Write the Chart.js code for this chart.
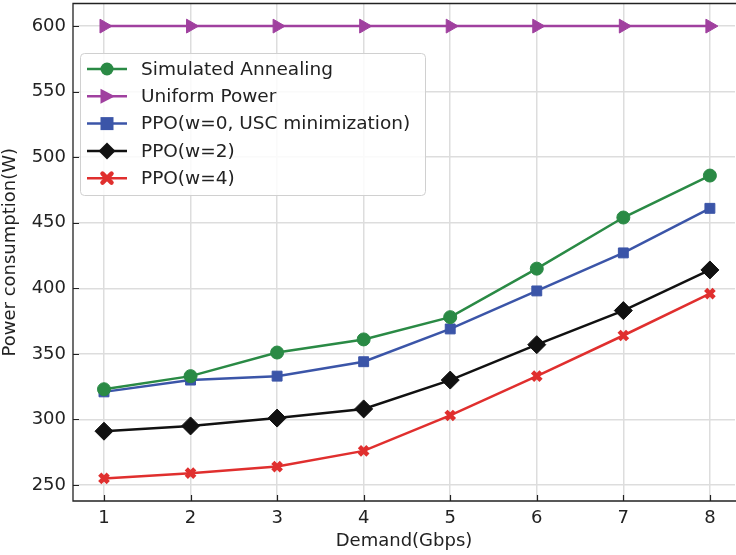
<!DOCTYPE html>
<html>
<head>
<meta charset="utf-8">
<script src="https://cdn.jsdelivr.net/npm/chart.js@4/dist/chart.umd.min.js"></script>
<style>
  html, body { margin: 0; padding: 0; background: #fff; }
  #wrap { width: 736px; height: 555px; }
</style>
</head>
<body>
<div id="wrap"><canvas id="canvas" width="736" height="555"></canvas></div>
<script>
const demand = [1, 2, 3, 4, 5, 6, 7, 8];
const simAnnealing = [323, 333, 351, 361, 378, 415, 454, 486];
const uniformPower = [600, 600, 600, 600, 600, 600, 600, 600];
const ppoW0 = [321, 330, 333, 344, 369, 398, 427, 461];
const ppoW2 = [291, 295, 301, 308, 330, 357, 383, 414];
const ppoW4 = [255, 259, 264, 276, 303, 333, 364, 396];
const yTicks = [250, 300, 350, 400, 450, 500, 550, 600];

const FONT = "'DejaVu Sans', sans-serif";

const series = [
  { label: "Simulated Annealing", data: simAnnealing, color: "#2a8a45", marker: "circle" },
  { label: "Uniform Power", data: uniformPower, color: "#a0409f", marker: "triangle" },
  { label: "PPO(w=0, USC minimization)", data: ppoW0, color: "#3b55a8", marker: "rect" },
  { label: "PPO(w=2)", data: ppoW2, color: "#111111", marker: "rectRot" },
  { label: "PPO(w=4)", data: ppoW4, color: "#e02f2e", marker: "crossRot" },
];

const pointSize = { circle: 6.5, triangle: 8, rect: 7, rectRot: 9, crossRot: 6 };

// draw a marker by hand for the legend
function drawMarker(c, kind, x, y, color) {
  c.save();
  c.fillStyle = color;
  c.strokeStyle = color;
  c.beginPath();
  if (kind === "circle") {
    c.arc(x, y, 6.5, 0, Math.PI * 2);
    c.fill();
  } else if (kind === "triangle") {
    c.moveTo(x + 8, y);
    c.lineTo(x - 6.5, y - 7.5);
    c.lineTo(x - 6.5, y + 7.5);
    c.closePath();
    c.fill();
  } else if (kind === "rect") {
    c.rect(x - 6.5, y - 6.5, 13, 13);
    c.fill();
  } else if (kind === "rectRot") {
    c.moveTo(x, y - 8.5); c.lineTo(x + 8.5, y); c.lineTo(x, y + 8.5); c.lineTo(x - 8.5, y);
    c.closePath();
    c.fill();
  } else {
    c.lineWidth = 4.5;
    c.lineCap = "round";
    c.moveTo(x - 4.5, y - 4.5); c.lineTo(x + 4.5, y + 4.5);
    c.moveTo(x + 4.5, y - 4.5); c.lineTo(x - 4.5, y + 4.5);
    c.stroke();
  }
  c.restore();
}

const framePlugin = {
  id: "frame",
  afterDraw(chart) {
    const c = chart.ctx;
    const a = chart.chartArea;
    const xs = chart.scales.x, ys = chart.scales.y;
    c.save();
    // inward tick marks
    c.strokeStyle = "#222";
    c.lineWidth = 1.2;
    c.beginPath();
    demand.forEach(v => {
      const px = Math.round(xs.getPixelForValue(v)) + 0.5;
      c.moveTo(px, a.bottom); c.lineTo(px, a.bottom - 6);
    });
    yTicks.forEach(v => {
      const py = Math.round(ys.getPixelForValue(v)) + 0.5;
      c.moveTo(a.left, py); c.lineTo(a.left + 6, py);
    });
    c.stroke();
    // spines (the right one falls just off the picture)
    c.strokeStyle = "#222";
    c.lineWidth = 1.3;
    c.beginPath();
    c.moveTo(a.right + 5, a.top); c.lineTo(a.left, a.top);
    c.lineTo(a.left, a.bottom); c.lineTo(a.right + 5, a.bottom);
    c.stroke();

    // legend box inside the plot
    const bx = 80, by = 53, bw = 345, bh = 142;
    c.fillStyle = "rgba(255,255,255,0.85)";
    c.strokeStyle = "#d0d0d0";
    c.lineWidth = 1;
    c.beginPath();
    c.roundRect(bx + 0.5, by + 0.5, bw, bh, 4);
    c.fill();
    c.stroke();
    c.font = "18.5px " + FONT;
    c.textBaseline = "middle";
    series.forEach((s, i) => {
      const y = 69 + i * 27.3;
      c.strokeStyle = s.color;
      c.lineWidth = 2.5;
      c.beginPath();
      c.moveTo(87, y); c.lineTo(127, y);
      c.stroke();
      drawMarker(c, s.marker, 107, y, s.color);
      c.fillStyle = "#222";
      c.fillText(s.label, 141, y + 1);
    });
    c.restore();
  },
};

const ctx = document.getElementById("canvas").getContext("2d");

new Chart(ctx, {
  type: "line",
  data: {
    datasets: series.map(s => ({
      label: s.label,
      data: demand.map((d, i) => ({ x: d, y: s.data[i] })),
      borderColor: s.color,
      backgroundColor: s.color,
      pointBackgroundColor: s.color,
      pointBorderColor: s.color,
      pointStyle: s.marker,
      pointRotation: s.marker === "triangle" ? 90 : 0,
      pointRadius: pointSize[s.marker],
      pointBorderWidth: s.marker === "crossRot" ? 4.5 : 1,
      borderWidth: 2.5,
      tension: 0,
      clip: false,
    })),
  },
  options: {
    responsive: false,
    animation: false,
    layout: { autoPadding: false, padding: { top: 3.5, right: 1, left: 0, bottom: 0 } },
    scales: {
      x: {
        type: "linear",
        min: 0.642,
        max: 8.29,
        afterBuildTicks: s => { s.ticks = demand.map(v => ({ value: v })); },
        afterFit: s => { s.height = 54; s.paddingLeft = 0; s.paddingRight = 0; },
        grid: { color: "#dddddd", lineWidth: 1.5, drawTicks: false },
        border: { display: false },
        ticks: { color: "#222", font: { family: FONT, size: 18 }, padding: 7, maxRotation: 0 },
        title: {
          display: true,
          text: "Demand(Gbps)",
          color: "#222",
          font: { family: FONT, size: 18 },
          padding: { top: 0, bottom: 3 },
        },
      },
      y: {
        min: 237.75,
        max: 617.25,
        afterBuildTicks: s => { s.ticks = yTicks.map(v => ({ value: v })); },
        afterFit: s => { s.width = 73; s.paddingTop = 0; s.paddingBottom = 0; },
        grid: { color: "#dddddd", lineWidth: 1.5, drawTicks: false },
        border: { display: false },
        ticks: { color: "#222", font: { family: FONT, size: 18 }, padding: 7 },
        title: {
          display: true,
          text: "Power consumption(W)",
          color: "#222",
          font: { family: FONT, size: 18 },
          padding: { top: 0, bottom: 2 },
        },
      },
    },
    plugins: {
      legend: { display: false },
      tooltip: { enabled: false },
    },
  },
  plugins: [framePlugin],
});
</script>
</body>
</html>
